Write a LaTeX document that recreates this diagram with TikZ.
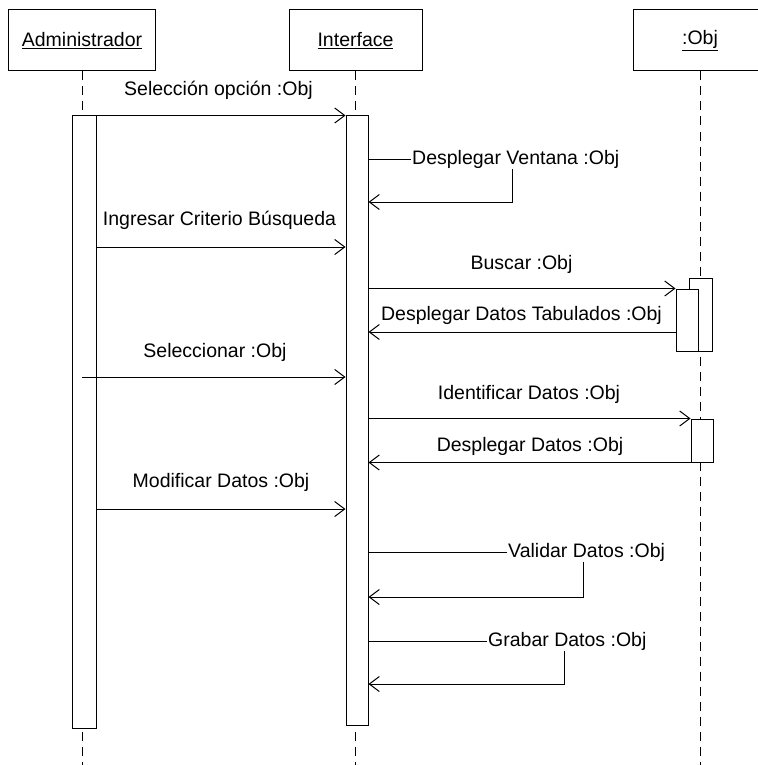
\documentclass[tikz,border=0pt]{standalone}
\usepackage{fontspec}
\setmainfont{Liberation Sans}
\usetikzlibrary{arrows.meta}
\begin{document}
\begin{tikzpicture}[x=1pt,y=-1pt,
  txt/.style={font=\fontsize{19.5pt}{23pt}\selectfont, inner sep=1pt},
  objbox/.style={txt, draw, fill=white, line width=1pt, minimum height=61pt},
  act/.style={draw, fill=white, line width=1pt, inner sep=0pt},
  lifeline/.style={line width=0.9pt, dash pattern=on 9pt off 6pt},
  msg/.style={line width=1pt, -{Straight Barb[length=10pt,width=15pt,line width=1pt]}},
  plain/.style={line width=1pt}]
\useasboundingbox (0,0) rectangle (757,765);

% objects
\node[objbox, minimum width=147pt] (adm) at (82,40.5) {\underline{Administrador}};
\node[objbox, minimum width=133pt] (ifc) at (355.5,40.5) {\underline{Interface}};
\node[objbox, minimum width=134pt] (obj) at (700,40.5) {\underline{:Obj}};

% lifelines
\draw[lifeline] (adm.south) -- (adm.south |- 0,765);
\draw[lifeline] (ifc.south) -- (ifc.south |- 0,765);
\draw[lifeline] (obj.south) -- (obj.south |- 0,765);

% activations
\node[act, minimum width=24pt, minimum height=612pt] (aa) at (84,422) {};
\node[act, minimum width=22pt, minimum height=609pt] (ia) at (357,420.5) {};
\node[act, minimum width=23pt, minimum height=73pt] (oa1) at (700.5,314.5) {};
\node[act, minimum width=22pt, minimum height=62pt] (oa2) at (687,320) {};
\node[act, minimum width=22pt, minimum height=43pt] (oa3) at (702,440.5) {};

% Selección opción
\node[txt] (t1) at (218.5,90) {Selección opción :Obj};
\draw[msg] (aa.north east) -- (ia.north west);

% Desplegar Ventana (self call)
\node[txt, anchor=west] (t2) at (411,159) {Desplegar Ventana :Obj};
\draw[plain] (ia.east |- t2.west) -- (t2.west);
\draw[msg] ([xshift=-3pt]t2.south) -- ([xshift=-3pt]t2.south |- 0,202) -- (ia.east |- 0,202);

% Ingresar Criterio Búsqueda
\node[txt] (t3) at (219.5,220) {Ingresar Criterio Búsqueda};
\draw[msg] (aa.east |- 0,247) -- (ia.west |- 0,247);

% Buscar
\node[txt] (t4) at (521.5,264) {Buscar :Obj};
\draw[msg] (ia.east |- oa2.north) -- (oa2.north west);

% Desplegar Datos Tabulados
\node[txt] (t5) at (521.5,315) {Desplegar Datos Tabulados :Obj};
\draw[msg] (oa2.west |- 0,332) -- (ia.east |- 0,332);

% Seleccionar
\node[txt] (t6) at (215,352) {Seleccionar :Obj};
\draw[msg] (adm.south |- 0,377) -- (ia.west |- 0,377);

% Identificar Datos
\node[txt] (t7) at (529,394) {Identificar Datos :Obj};
\draw[msg] (ia.east |- oa3.north) -- (oa3.north west);

% Desplegar Datos
\node[txt] (t8) at (530,446) {Desplegar Datos :Obj};
\draw[msg] (oa3.south west) -- (ia.east |- oa3.south);

% Modificar Datos
\node[txt] (t9) at (221,482) {Modificar Datos :Obj};
\draw[msg] (aa.east |- 0,509) -- (ia.west |- 0,509);

% Validar Datos (self call)
\node[txt, anchor=west] (t10) at (507,552) {Validar Datos :Obj};
\draw[plain] (ia.east |- t10.west) -- (t10.west);
\draw[msg] ([xshift=-3pt]t10.south) -- ([xshift=-3pt]t10.south |- 0,597) -- (ia.east |- 0,597);

% Grabar Datos (self call)
\node[txt, anchor=west] (t11) at (487,641) {Grabar Datos :Obj};
\draw[plain] (ia.east |- t11.west) -- (t11.west);
\draw[msg] ([xshift=-3pt]t11.south) -- ([xshift=-3pt]t11.south |- 0,684) -- (ia.east |- 0,684);
\end{tikzpicture}
\end{document}
